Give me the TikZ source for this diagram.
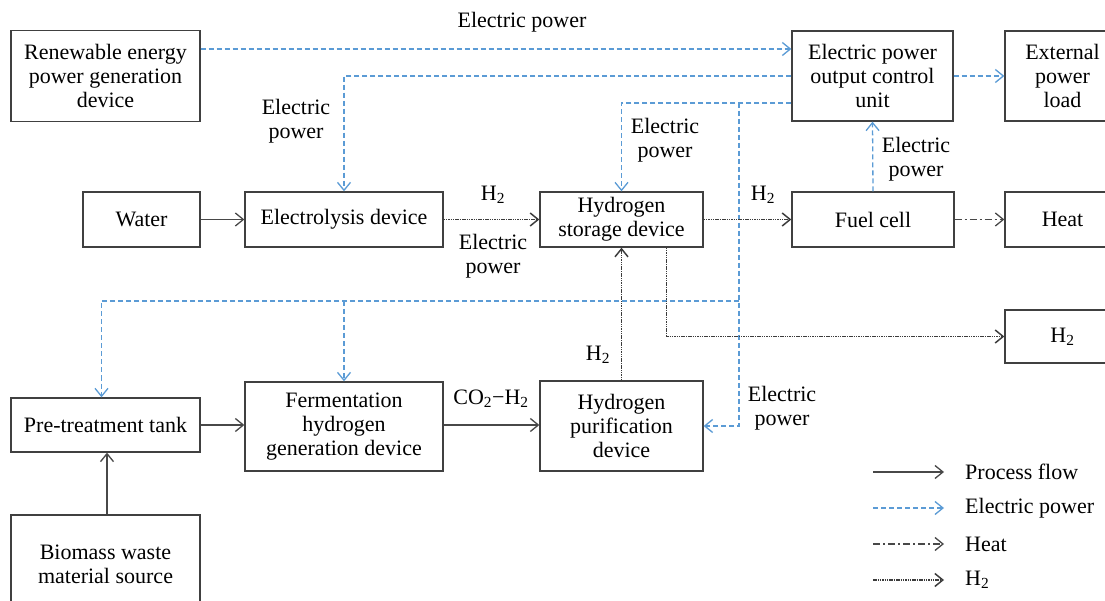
\documentclass[tikz,border=0pt]{standalone}
\usepackage{fontspec}
\setmainfont{Liberation Serif}
\usetikzlibrary{arrows.meta,positioning,calc}
\definecolor{epblue}{RGB}{91,155,213}
\definecolor{boxgray}{RGB}{64,64,64}
\definecolor{lngray}{RGB}{72,72,72}
\definecolor{dotgray}{RGB}{60,60,60}
\tikzset{
  unit/.style={draw=boxgray, line width=1.3pt, fill=white, align=center,
    inner sep=0pt, font=\fontsize{22}{24}\selectfont},
  lbl/.style={align=center, inner sep=0pt, font=\fontsize{22}{24}\selectfont},
  pflow/.style={-{Straight Barb[length=8pt,width=13pt]}, lngray, line width=1.3pt},
  eflow/.style={-{Straight Barb[length=8pt,width=13pt]}, epblue, line width=1.3pt,
    dash pattern=on 5pt off 3pt},
  hflow/.style={-{Straight Barb[length=8pt,width=13pt]}, lngray, line width=1.3pt,
    dash pattern=on 7pt off 3pt on 2pt off 3pt},
  h2flow/.style={-{Straight Barb[length=8pt,width=13pt]}, dotgray, line width=1.5pt,
    dash pattern=on 1.5pt off 0.8pt}
}

\begin{document}
\begin{tikzpicture}[x=1pt, y=-1pt]
  \useasboundingbox (0,0) rectangle (1105,601);
  \clip (0,0) rectangle (1105,601);

  % top row
  \node[unit, minimum width=189pt, minimum height=91pt] (renew) at (105.5,76)
    {Renewable energy\\power generation\\device};
  \node[unit, minimum width=161pt, minimum height=90pt] (ctrl) at (872.5,76)
    {Electric power\\output control\\unit};
  \node[unit, minimum width=115pt, minimum height=90pt] (ext) at (1062.5,76)
    {External\\power\\load};

  % middle row
  \node[unit, minimum width=117pt, minimum height=55pt] (water) at (141.5,219.5) {Water};
  \node[unit, minimum width=198pt, minimum height=55pt] (elec) at (344,219.5) {Electrolysis device};
  \node[unit, minimum width=163pt, minimum height=55pt] (stor) at (621.5,219.5)
    {Hydrogen\\storage device};
  \node[unit, minimum width=162pt, minimum height=55pt] (fuel) at (873,219.5) {Fuel cell};
  \node[unit, minimum width=115pt, minimum height=55pt] (heat) at (1062.5,219.5) {Heat};
  \node[unit, minimum width=115pt, minimum height=53pt] (hbox) at (1062.5,336.5)
    {H\textsubscript{2}};

  % bottom row
  \node[unit, minimum width=189pt, minimum height=54pt] (pre) at (105.5,425) {Pre-treatment tank};
  \node[unit, minimum width=198pt, minimum height=89pt] (ferm) at (344,426.5)
    {Fermentation\\hydrogen\\generation device};
  \node[unit, minimum width=163pt, minimum height=90pt] (puri) at (621.5,426)
    {Hydrogen\\purification\\device};
  \node[unit, minimum width=189pt, minimum height=98pt] (bio) at (105.5,564)
    {Biomass waste\\material source};

  % electric power lines
  \coordinate (jn) at (739,103);
  \coordinate (bus) at (739,301);
  \draw[eflow] ([yshift=27pt]renew.east) -- ([yshift=27pt]ctrl.west);
  \draw[eflow] (ctrl.west) -| (elec.north);
  \draw[eflow] ([yshift=-27pt]ctrl.west) -| (stor.north);
  \draw[eflow] (jn) |- (puri.east);
  \draw[eflow] (bus) -| ([xshift=-4pt]pre.north);
  \draw[eflow] (bus -| ferm.north) -- (ferm.north);
  \draw[eflow] (fuel.north) -- (ctrl.south);
  \draw[eflow] (ctrl.east) -- (ext.west);

  % process and gas flows
  \draw[pflow] (water) -- (elec);
  \draw[pflow] (pre) -- (pre -| ferm.west);
  \draw[pflow] ([xshift=1.5pt]bio.north) -- ([xshift=1.5pt]pre.south);
  \draw[pflow] (ferm.east |- pre) -- (puri.west |- pre);
  \draw[h2flow] (elec) -- (stor);
  \draw[h2flow] (stor) -- (fuel);
  \draw[h2flow] (puri.north) -- (stor.south);
  \draw[h2flow] ([xshift=45pt]stor.south) |- (hbox.west);
  \draw[hflow] (fuel) -- (heat);

  % labels
  \node[lbl] (l1) at (522,22) {Electric power};
  \node[lbl] (l2) at (296,121.5) {Electric\\power};
  \node[lbl] (l3) at (665,140) {Electric\\power};
  \node[lbl] (l4) at (916,159) {Electric\\power};
  \node[lbl] (l5) at (493,195) {H\textsubscript{2}};
  \node[lbl] (l6) at (493,256) {Electric\\power};
  \node[lbl] (l7) at (763,195) {H\textsubscript{2}};
  \node[lbl] (l8) at (598,355) {H\textsubscript{2}};
  \node[lbl] (l9) at (491,399) {CO\textsubscript{2}−H\textsubscript{2}};
  \node[lbl] (l10) at (782,408) {Electric\\power};

  % legend
  \foreach \st/\tx [count=\i] in {pflow/Process flow, eflow/Electric power, hflow/Heat, h2flow/H\textsubscript{2}} {
    \coordinate (lga\i) at (873,{436+36*\i});
    \coordinate (lgb\i) at (944,{436+36*\i});
    \draw[\st] (lga\i) -- (lgb\i);
    \node[lbl, anchor=west] (lgt\i) at (965,{436+36*\i}) {\tx};
  }
\end{tikzpicture}
\end{document}
